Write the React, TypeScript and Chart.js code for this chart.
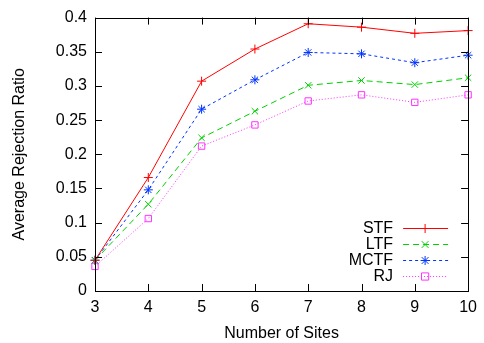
import React, { useEffect, useRef } from "react";
import { Chart, registerables } from "chart.js";

Chart.register(...registerables);

const sites = [3, 4, 5, 6, 7, 8, 9, 10];
const stf = [0.045, 0.166, 0.307, 0.354, 0.391, 0.386, 0.377, 0.381];
const ltf = [0.045, 0.127, 0.224, 0.263, 0.301, 0.308, 0.302, 0.312];
const mctf = [0.045, 0.148, 0.266, 0.309, 0.349, 0.347, 0.334, 0.345];
const rj = [0.036, 0.106, 0.212, 0.243, 0.278, 0.287, 0.276, 0.287];
const seriesNames = ["STF", "LTF", "MCTF", "RJ"];
const xLabel = "Number of Sites";
const yLabel = "Average Rejection Ratio";

const FONT = "'Liberation Sans', Arial, sans-serif";

const frameTicksPlugin = {
  id: "frameTicks",
  afterDatasetsDraw(chart: any) {
    const { ctx, chartArea } = chart;
    const { left, right, top, bottom } = chartArea;
    const xs = chart.scales.x;
    const ys = chart.scales.y;
    const len = 7;
    ctx.save();
    ctx.strokeStyle = "#000";
    ctx.lineWidth = 1;
    ctx.setLineDash([]);
    ctx.beginPath();
    xs.ticks.forEach((t: any) => {
      const px = Math.round(xs.getPixelForValue(t.value)) + 0.5;
      ctx.moveTo(px, bottom);
      ctx.lineTo(px, bottom - len);
      ctx.moveTo(px, top);
      ctx.lineTo(px, top + len);
    });
    ys.ticks.forEach((t: any) => {
      const py = Math.round(ys.getPixelForValue(t.value)) + 0.5;
      ctx.moveTo(left, py);
      ctx.lineTo(left + len, py);
      ctx.moveTo(right, py);
      ctx.lineTo(right - len, py);
    });
    ctx.stroke();
    ctx.strokeRect(Math.round(left) + 0.5, Math.round(top) + 0.5, Math.round(right - left), Math.round(bottom - top));
    ctx.restore();
  },
};

function drawMarker(ctx: CanvasRenderingContext2D, style: string, x: number, y: number, r: number) {
  ctx.beginPath();
  if (style === "cross") {
    ctx.moveTo(x - r, y); ctx.lineTo(x + r, y);
    ctx.moveTo(x, y - r); ctx.lineTo(x, y + r);
  } else if (style === "crossRot") {
    const d = r * 0.75;
    ctx.moveTo(x - d, y - d); ctx.lineTo(x + d, y + d);
    ctx.moveTo(x - d, y + d); ctx.lineTo(x + d, y - d);
  } else if (style === "star") {
    const d = r * 0.75;
    ctx.moveTo(x - r, y); ctx.lineTo(x + r, y);
    ctx.moveTo(x, y - r); ctx.lineTo(x, y + r);
    ctx.moveTo(x - d, y - d); ctx.lineTo(x + d, y + d);
    ctx.moveTo(x - d, y + d); ctx.lineTo(x + d, y - d);
  } else {
    const d = r * 0.8;
    ctx.rect(x - d, y - d, 2 * d, 2 * d);
  }
  ctx.stroke();
}

const legendPlugin = {
  id: "gnuLegend",
  afterDatasetsDraw(chart: any) {
    const { ctx, chartArea } = chart;
    const n = chart.data.datasets.length;
    ctx.save();
    ctx.font = `16px ${FONT}`;
    ctx.textAlign = "right";
    ctx.textBaseline = "middle";
    chart.data.datasets.forEach((ds: any, i: number) => {
      const y = chartArea.bottom - 16 * (n - i) + 1;
      const tx = chartArea.right - 75;
      ctx.fillStyle = "#000";
      ctx.fillText(ds.label, tx, y + 1);
      ctx.strokeStyle = ds.borderColor;
      ctx.lineWidth = 1;
      ctx.setLineDash(ds.borderDash || []);
      ctx.beginPath();
      ctx.moveTo(chartArea.right - 65, y + 0.5);
      ctx.lineTo(chartArea.right - 20, y + 0.5);
      ctx.stroke();
      ctx.setLineDash([]);
      drawMarker(ctx, ds.pointStyle, chartArea.right - 43, y + 0.5, ds.pointRadius);
    });
    ctx.restore();
  },
};

export default function App() {
  const ref = useRef<HTMLCanvasElement | null>(null);
  useEffect(() => {
    if (!ref.current) return;
    const mk = (vals: number[]) => sites.map((s, i) => ({ x: s, y: vals[i] }));
    const styles = [
      { color: "#ff0000", dash: [], pt: "cross" },
      { color: "#00d000", dash: [6, 4], pt: "crossRot" },
      { color: "#0033ff", dash: [3, 3], pt: "star" },
      { color: "#ff33ff", dash: [1, 2], pt: "rect" },
    ];
    const all = [stf, ltf, mctf, rj];
    const chart = new Chart(ref.current, {
      type: "line",
      data: {
        datasets: all.map((vals, i) => ({
          label: seriesNames[i],
          data: mk(vals),
          borderColor: styles[i].color,
          backgroundColor: "rgba(0,0,0,0)",
          borderWidth: 1,
          borderDash: styles[i].dash,
          pointStyle: styles[i].pt as any,
          pointRadius: 4.5,
          pointBorderWidth: 1,
          pointBorderColor: styles[i].color,
          pointBackgroundColor: "rgba(0,0,0,0)",
          tension: 0,
          clip: false as any,
        })),
      },
      options: {
        responsive: false,
        animation: false,
        layout: { padding: { top: 13, right: 12, left: 0, bottom: 0 } },
        plugins: { legend: { display: false }, tooltip: { enabled: false } },
        scales: {
          x: {
            type: "linear",
            min: 3,
            max: 10,
            grid: { display: false, drawTicks: false },
            border: { display: false },
            ticks: { stepSize: 1, color: "#000", font: { family: FONT, size: 16 }, padding: 7, maxRotation: 0 },
            title: { display: true, text: xLabel, color: "#000", font: { family: FONT, size: 16 }, padding: { top: 4, bottom: 0 } },
            afterFit: (s: any) => { s.height = 52; },
          },
          y: {
            min: 0,
            max: 0.4,
            grid: { display: false, drawTicks: false },
            border: { display: false },
            ticks: {
              stepSize: 0.05,
              color: "#000",
              font: { family: FONT, size: 16 },
              padding: 8,
              callback: (v: any) => String(+Number(v).toFixed(2)),
            },
            title: { display: true, text: yLabel, color: "#000", font: { family: FONT, size: 16 }, padding: { top: 10, bottom: 0 } },
            afterFit: (s: any) => { s.width = 95; },
          },
        },
      },
      plugins: [frameTicksPlugin, legendPlugin],
    });
    return () => chart.destroy();
  }, []);
  return (
    <div style={{ position: "fixed", left: 0, top: 0, width: 484, height: 343, background: "#fff" }}>
      <canvas ref={ref} width={484} height={343} />
    </div>
  );
}
